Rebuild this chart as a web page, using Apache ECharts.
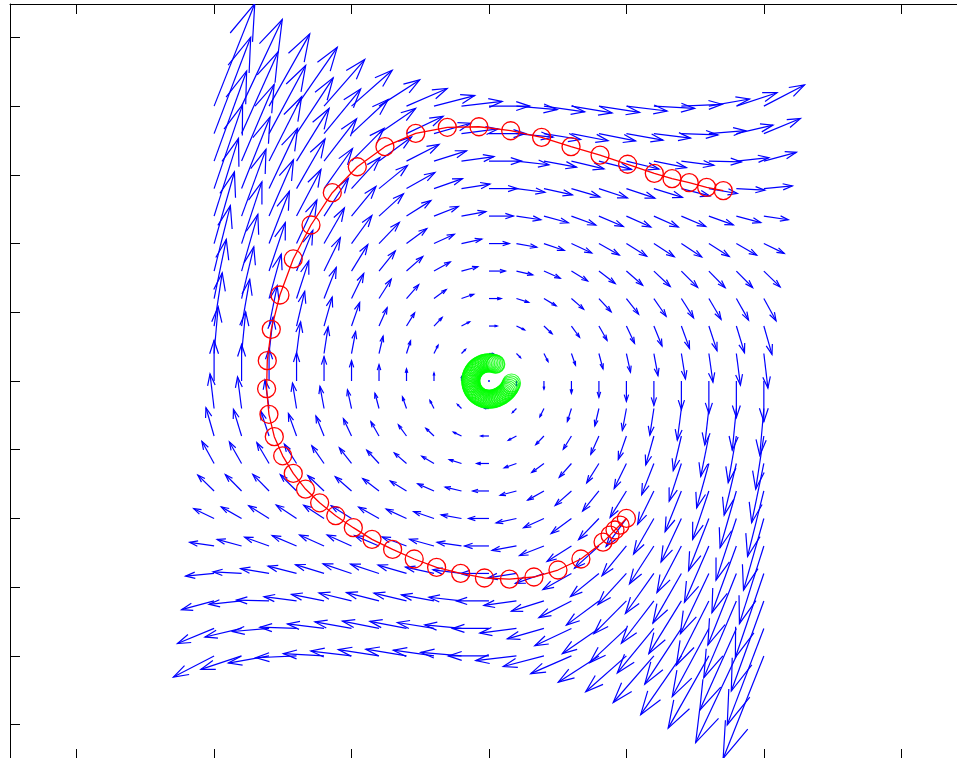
<!DOCTYPE html>
<html><head><meta charset="utf-8">
<script src="https://cdn.jsdelivr.net/npm/echarts@6/dist/echarts.min.js"></script>
<style>html,body{margin:0;padding:0;background:#fff;overflow:hidden}#c{width:990px;height:780px}</style>
</head><body><div id="c"></div>
<script>
// grid of arrow tails
const gridX = [-2,-1.8,-1.6,-1.4,-1.2,-1,-0.8,-0.6,-0.4,-0.2,0,0.2,0.4,0.6,0.8,1,1.2,1.4,1.6,1.8,2];
const gridY = [2,1.8,1.6,1.4,1.2,1,0.8,0.6,0.4,0.2,0,-0.2,-0.4,-0.6,-0.8,-1,-1.2,-1.4,-1.6,-1.8,-2];
// horizontal component, constant along each row (top row first)
const uRow = [2,1.8,1.6,1.4,1.2,1,0.8,0.6,0.4,0.2,0,-0.2,-0.4,-0.6,-0.8,-1,-1.2,-1.4,-1.6,-1.8,-2];
// vertical component, one row per gridY value, columns follow gridX
const vRows = [
 [5.04,4.26,3.55,2.89,2.29,1.76,1.29,0.87,0.52,0.23,0,-0.17,-0.28,-0.33,-0.31,-0.24,-0.11,0.09,0.35,0.66,1.04],
 [4.74,4.02,3.35,2.74,2.19,1.68,1.24,0.85,0.51,0.23,0,-0.17,-0.29,-0.35,-0.36,-0.32,-0.22,-0.06,0.15,0.42,0.74],
 [4.43,3.77,3.16,2.59,2.08,1.61,1.19,0.82,0.50,0.22,0,-0.18,-0.30,-0.38,-0.41,-0.39,-0.32,-0.21,-0.04,0.17,0.43],
 [4.13,3.52,2.96,2.44,1.97,1.53,1.14,0.79,0.49,0.22,0,-0.18,-0.31,-0.41,-0.46,-0.47,-0.43,-0.36,-0.24,-0.08,0.13],
 [3.82,3.28,2.77,2.29,1.86,1.46,1.09,0.76,0.47,0.22,0,-0.18,-0.33,-0.44,-0.51,-0.54,-0.54,-0.51,-0.43,-0.32,-0.18],
 [3.52,3.03,2.57,2.14,1.75,1.38,1.04,0.74,0.46,0.22,0,-0.18,-0.34,-0.46,-0.56,-0.62,-0.65,-0.66,-0.63,-0.57,-0.48],
 [3.22,2.79,2.38,2.00,1.64,1.30,0.99,0.71,0.45,0.21,0,-0.19,-0.35,-0.49,-0.61,-0.70,-0.76,-0.80,-0.82,-0.81,-0.78],
 [2.91,2.54,2.18,1.85,1.53,1.23,0.95,0.68,0.44,0.21,0,-0.19,-0.36,-0.52,-0.65,-0.77,-0.87,-0.95,-1.02,-1.06,-1.09],
 [2.61,2.29,1.99,1.70,1.42,1.15,0.90,0.65,0.42,0.21,0,-0.19,-0.38,-0.55,-0.70,-0.85,-0.98,-1.10,-1.21,-1.31,-1.39],
 [2.30,2.05,1.79,1.55,1.31,1.08,0.85,0.63,0.41,0.20,0,-0.20,-0.39,-0.57,-0.75,-0.92,-1.09,-1.25,-1.41,-1.55,-1.70],
 [2.00,1.80,1.60,1.40,1.20,1.00,0.80,0.60,0.40,0.20,0,-0.20,-0.40,-0.60,-0.80,-1.00,-1.20,-1.40,-1.60,-1.80,-2.00],
 [1.70,1.55,1.41,1.25,1.09,0.92,0.75,0.57,0.39,0.20,0,-0.20,-0.41,-0.63,-0.85,-1.08,-1.31,-1.55,-1.79,-2.05,-2.30],
 [1.39,1.31,1.21,1.10,0.98,0.85,0.70,0.55,0.38,0.19,0,-0.21,-0.42,-0.65,-0.90,-1.15,-1.42,-1.70,-1.99,-2.29,-2.61],
 [1.09,1.06,1.02,0.95,0.87,0.77,0.65,0.52,0.36,0.19,0,-0.21,-0.44,-0.68,-0.95,-1.23,-1.53,-1.85,-2.18,-2.54,-2.91],
 [0.78,0.81,0.82,0.80,0.76,0.70,0.61,0.49,0.35,0.19,0,-0.21,-0.45,-0.71,-0.99,-1.30,-1.64,-2.00,-2.38,-2.79,-3.22],
 [0.48,0.57,0.63,0.66,0.65,0.62,0.56,0.46,0.34,0.18,0,-0.22,-0.46,-0.74,-1.04,-1.38,-1.75,-2.14,-2.57,-3.03,-3.52],
 [0.18,0.32,0.43,0.51,0.54,0.54,0.51,0.44,0.33,0.18,0,-0.22,-0.47,-0.76,-1.09,-1.46,-1.86,-2.29,-2.77,-3.28,-3.82],
 [-0.13,0.08,0.24,0.36,0.43,0.47,0.46,0.41,0.31,0.18,0,-0.22,-0.49,-0.79,-1.14,-1.53,-1.97,-2.44,-2.96,-3.52,-4.13],
 [-0.43,-0.17,0.04,0.21,0.32,0.39,0.41,0.38,0.30,0.18,0,-0.22,-0.50,-0.82,-1.19,-1.61,-2.08,-2.59,-3.16,-3.77,-4.43],
 [-0.74,-0.42,-0.15,0.06,0.22,0.32,0.36,0.35,0.29,0.17,0,-0.23,-0.51,-0.85,-1.24,-1.68,-2.19,-2.74,-3.35,-4.02,-4.74],
 [-1.04,-0.66,-0.35,-0.09,0.11,0.24,0.31,0.33,0.28,0.17,0,-0.23,-0.52,-0.87,-1.29,-1.76,-2.29,-2.89,-3.55,-4.26,-5.04]
];
// red trajectory (x, y)
const redPath = [
 [1.000,-1.000],[0.954,-1.048],[0.917,-1.084],[0.881,-1.121],[0.830,-1.172],[0.669,-1.295],
 [0.502,-1.375],[0.327,-1.426],[0.149,-1.441],[-0.033,-1.433],[-0.206,-1.399],[-0.381,-1.356],
 [-0.544,-1.295],[-0.701,-1.225],[-0.851,-1.152],[-0.987,-1.067],[-1.115,-0.980],[-1.232,-0.886],
 [-1.335,-0.786],[-1.424,-0.672],[-1.501,-0.544],[-1.562,-0.405],[-1.601,-0.242],[-1.618,-0.056],
 [-1.613,0.148],[-1.584,0.376],[-1.521,0.626],[-1.424,0.888],[-1.295,1.135],[-1.140,1.370],
 [-0.958,1.559],[-0.757,1.705],[-0.533,1.802],[-0.303,1.846],[-0.073,1.850],[0.158,1.821],
 [0.383,1.773],[0.597,1.705],[0.808,1.644],[1.009,1.577],[1.203,1.511],[1.332,1.472],
 [1.457,1.443],[1.584,1.409],[1.705,1.385]
];
// green trajectory near the origin (x, y)
const greenPath = [
 [0.1638,-0.0143],[0.1584,-0.0279],[0.1525,-0.0409],[0.1450,-0.0528],[0.1372,-0.0640],[0.1279,-0.0739],
 [0.1186,-0.0831],[0.1087,-0.0912],[0.0988,-0.0988],[0.0884,-0.1053],[0.0781,-0.1115],[0.0673,-0.1166],
 [0.0566,-0.1213],[0.0457,-0.1255],[0.0345,-0.1286],[0.0231,-0.1308],[0.0115,-0.1319],[0.0000,-0.1324],
 [-0.0115,-0.1319],[-0.0230,-0.1304],[-0.0343,-0.1279],[-0.0453,-0.1244],[-0.0560,-0.1200],[-0.0662,-0.1147],
 [-0.0760,-0.1085],[-0.0851,-0.1014],[-0.0936,-0.0936],[-0.1014,-0.0851],[-0.1085,-0.0760],[-0.1147,-0.0662],
 [-0.1200,-0.0560],[-0.1244,-0.0453],[-0.1279,-0.0343],[-0.1304,-0.0230],[-0.1319,-0.0115],[-0.1324,0.0000],
 [-0.1319,0.0115],[-0.1304,0.0230],[-0.1279,0.0343],[-0.1244,0.0453],[-0.1200,0.0560],[-0.1147,0.0662],
 [-0.1085,0.0760],[-0.1014,0.0851],[-0.0936,0.0936],[-0.0851,0.1014],[-0.0760,0.1085],[-0.0662,0.1147],
 [-0.0560,0.1200],[-0.0453,0.1244],[-0.0343,0.1279],[-0.0230,0.1304],[-0.0115,0.1319],[0.0000,0.1324],
 [0.0115,0.1319],[0.0230,0.1304],[0.0343,0.1279],[0.0453,0.1244],[0.0496,0.1228]
];

const ARROW_SCALE = 0.148;
const quiverData = [];
gridY.forEach((y, i) => {
  gridX.forEach((x, j) => { quiverData.push([x, y, uRow[i], vRows[i][j]]); });
});

const BLUE = '#0000ff';
function renderArrow(params, api) {
  const x = api.value(0), y = api.value(1);
  const u = api.value(2) * ARROW_SCALE, v = api.value(3) * ARROW_SCALE;
  const p0 = api.coord([x, y]);
  if (u === 0 && v === 0) {
    return {type: 'circle', shape: {cx: p0[0], cy: p0[1], r: 1}, style: {fill: BLUE}};
  }
  const tx = x + u, ty = y + v;
  const p1 = api.coord([tx, ty]);
  const a = 0.33, b = 0.33;
  const h1 = api.coord([tx - a * (u + b * v), ty - a * (v - b * u)]);
  const h2 = api.coord([tx - a * (u - b * v), ty - a * (v + b * u)]);
  const st = {stroke: BLUE, lineWidth: 1.2, fill: 'none'};
  return {type: 'group', children: [
    {type: 'polyline', shape: {points: [p0, p1]}, style: st},
    {type: 'polyline', shape: {points: [h1, p1, h2]}, style: st}
  ]};
}

const axisCommon = {
  type: 'value',
  axisLine: {show: true, onZero: false, lineStyle: {color: '#000', width: 1}},
  axisTick: {show: true, inside: true, length: 10, lineStyle: {color: '#000', width: 1}},
  axisLabel: {show: false},
  splitLine: {show: false}
};
const xAx = Object.assign({}, axisCommon, {min: -3.485, max: 3.5, splitNumber: 7, minInterval: 1, maxInterval: 1});
const yAx = Object.assign({}, axisCommon, {min: -2.75, max: 2.743, splitNumber: 11, minInterval: 0.5, maxInterval: 0.5});

const chart = echarts.init(document.getElementById('c'), null, {renderer: 'canvas'});
chart.setOption({
  animation: false,
  backgroundColor: '#fff',
  grid: {left: 10, top: 4, width: 960, height: 755, containLabel: false},
  xAxis: [Object.assign({}, xAx, {position: 'bottom'}), Object.assign({}, xAx, {position: 'top'})],
  yAxis: [Object.assign({}, yAx, {position: 'left'}), Object.assign({}, yAx, {position: 'right'})],
  series: [
    {type: 'custom', renderItem: renderArrow, data: quiverData, encode: {x: 0, y: 1}, clip: true, silent: true, z: 2},
    {type: 'line', data: redPath, symbol: 'circle', symbolSize: 18, showSymbol: true, showAllSymbol: true,
     lineStyle: {color: '#ff0000', width: 1.3},
     itemStyle: {color: 'rgba(255,255,255,0)', borderColor: '#ff0000', borderWidth: 1.3},
     silent: true, z: 3},
    {type: 'scatter', data: greenPath, symbol: 'circle', symbolSize: 18,
     itemStyle: {color: 'rgba(255,255,255,0)', borderColor: '#00ff00', borderWidth: 1.2},
     silent: true, z: 4}
  ]
});
</script></body></html>
